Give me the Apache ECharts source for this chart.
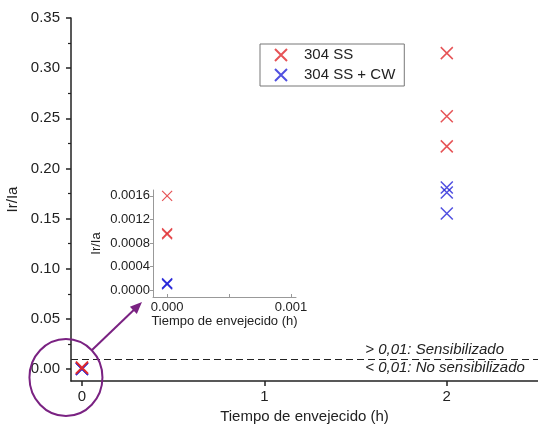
<!DOCTYPE html>
<html>
<head>
<meta charset="utf-8">
<script src="https://cdn.jsdelivr.net/npm/echarts@6/dist/echarts.min.js"></script>
<style>
html,body{margin:0;padding:0;background:#fff;}
#chart{width:538px;height:426px;}
</style>
</head>
<body>
<div id="chart"></div>
<script>
// ---- data ----
const seriesNames = ['304 SS', '304 SS + CW'];
const times = [0, 2];
const ss304_t0 = [0.0016, 0.00097, 0.00095];
const ss304_t2 = [0.315, 0.252, 0.222];
const ssCw_t0 = [0.00011, 0.00010, 0.00012];
const ssCw_t2 = [0.181, 0.176, 0.155];
const threshold = 0.01;
const thresholdLabels = ['> 0,01: Sensibilizado', '< 0,01: No sensibilizado'];
const mainYTicks = [0, 0.05, 0.10, 0.15, 0.20, 0.25, 0.30, 0.35];
const mainYMinor = [0.025, 0.075, 0.125, 0.175, 0.225, 0.275, 0.325];
const mainXTicks = [0, 1, 2];
const insetYTicks = [0, 0.0004, 0.0008, 0.0012, 0.0016];
const insetXTicks = [0, 0.001];
const insetXMinor = [0, 0.0005, 0.001];
const xTitle = 'Tiempo de envejecido (h)';
const yTitle = 'Ir/Ia';

// ---- build ----
const FONT = 'Arial, "Liberation Sans", sans-serif';
const RED = '#e0282c';
const BLUE = '#2424d8';
const PURPLE = '#7a2282';
const XSYM = 'path://M0,0L10,10M10,0L0,10';

function pairs(t, arr) { return arr.map(v => [t, v]); }
const redMain = pairs(times[0], ss304_t0).concat(pairs(times[1], ss304_t2));
const blueMain = pairs(times[0], ssCw_t0).concat(pairs(times[1], ssCw_t2));
const redInset = pairs(times[0], ss304_t0);
const blueInset = pairs(times[0], ssCw_t0);

const chart = echarts.init(document.getElementById('chart'), null, {renderer: 'canvas'});

const axisMain = {lineStyle: {color: '#222', width: 1.5}};
const option = {
  animation: false,
  backgroundColor: '#fff',
  textStyle: {fontFamily: FONT},
  legend: {
    data: seriesNames,
    orient: 'vertical',
    left: 260, top: 44,
    itemWidth: 12, itemHeight: 12, itemGap: 2,
    padding: [2, 9, 2, 14],
    borderColor: '#777', borderWidth: 1,
    selectedMode: false,
    textStyle: {fontSize: 15, color: '#222', lineHeight: 18, padding: [0, 0, 0, 12], fontFamily: FONT}
  },
  grid: [
    {left: 71, right: 0, top: 18, bottom: 45, containLabel: false, outerBoundsMode: 'none'},
    {left: 153, right: 242, top: 190, bottom: 129, containLabel: false, outerBoundsMode: 'none'}
  ],
  xAxis: [
    {
      gridIndex: 0, type: 'value', min: -0.06, max: 2.5, position: 'bottom',
      name: xTitle, nameLocation: 'middle', nameGap: 24,
      nameTextStyle: {fontSize: 15, color: '#222', fontFamily: FONT},
      axisLine: {onZero: false, ...axisMain},
      axisTick: {show: true, length: 5, customValues: mainXTicks, lineStyle: {color: '#222', width: 1.5}},
      axisLabel: {customValues: mainXTicks, fontSize: 15, color: '#222', margin: 8, fontFamily: FONT},
      splitLine: {show: false}
    },
    {
      gridIndex: 1, type: 'value', min: -0.000114, max: 0.00104, position: 'bottom',
      name: xTitle, nameLocation: 'middle', nameGap: 14,
      nameTextStyle: {fontSize: 13, color: '#222', fontFamily: FONT},
      axisLine: {onZero: false, lineStyle: {color: '#999', width: 1}},
      axisTick: {show: true, inside: true, length: 3, customValues: insetXMinor, lineStyle: {color: '#999'}},
      axisLabel: {customValues: insetXTicks, fontSize: 13, color: '#222', margin: 4, fontFamily: FONT,
        formatter: v => v.toFixed(3)},
      splitLine: {show: false}
    }
  ],
  yAxis: [
    {
      gridIndex: 0, type: 'value', min: -0.012, max: 0.35, position: 'left',
      name: yTitle, nameLocation: 'middle', nameGap: 45, nameRotate: 90,
      nameTextStyle: {fontSize: 15, color: '#222', fontFamily: FONT},
      axisLine: {onZero: false, ...axisMain},
      axisTick: {show: true, length: 5, customValues: mainYTicks, lineStyle: {color: '#222', width: 1.5}},
      axisLabel: {customValues: mainYTicks, fontSize: 15, color: '#222', margin: 11, fontFamily: FONT,
        formatter: v => v.toFixed(2)},
      splitLine: {show: false}
    },
    {
      gridIndex: 0, type: 'value', min: -0.012, max: 0.35, position: 'left', offset: 0,
      axisLine: {show: false, onZero: false},
      axisTick: {show: true, length: 3, customValues: mainYMinor, lineStyle: {color: '#222', width: 1.2}},
      axisLabel: {show: false},
      splitLine: {show: false}
    },
    {
      gridIndex: 1, type: 'value', min: -0.000114, max: 0.0017, position: 'left',
      name: yTitle, nameLocation: 'middle', nameGap: 50, nameRotate: 90,
      nameTextStyle: {fontSize: 13, color: '#222', fontFamily: FONT},
      axisLine: {onZero: false, lineStyle: {color: '#999', width: 1}},
      axisTick: {show: true, length: 3, customValues: insetYTicks, lineStyle: {color: '#999'}},
      axisLabel: {customValues: insetYTicks, fontSize: 13, color: '#222', margin: 3, fontFamily: FONT,
        formatter: v => v.toFixed(4)},
      splitLine: {show: false}
    }
  ],
  series: [
    {
      name: seriesNames[1], type: 'scatter', xAxisIndex: 0, yAxisIndex: 0,
      data: blueMain, symbol: XSYM, symbolSize: 12, z: 2,
      itemStyle: {color: BLUE, borderColor: BLUE, borderWidth: 1.5},
      emphasis: {disabled: true}
    },
    {
      name: seriesNames[0], type: 'scatter', xAxisIndex: 0, yAxisIndex: 0,
      data: redMain, symbol: XSYM, symbolSize: 12, z: 3,
      itemStyle: {color: RED, borderColor: RED, borderWidth: 1.5},
      emphasis: {disabled: true},
      markLine: {
        silent: true, symbol: 'none', animation: false,
        label: {show: false},
        lineStyle: {color: '#222', type: [7, 4], width: 1.2},
        data: [{yAxis: threshold}]
      }
    },
    {
      name: seriesNames[1], type: 'scatter', xAxisIndex: 1, yAxisIndex: 2,
      data: blueInset, symbol: XSYM, symbolSize: 10, z: 2,
      itemStyle: {color: BLUE, borderColor: BLUE, borderWidth: 1.3},
      emphasis: {disabled: true}
    },
    {
      name: seriesNames[0], type: 'scatter', xAxisIndex: 1, yAxisIndex: 2,
      data: redInset, symbol: XSYM, symbolSize: 10, z: 3,
      itemStyle: {color: RED, borderColor: RED, borderWidth: 1.2},
      emphasis: {disabled: true}
    }
  ]
};
chart.setOption(option);

// ---- annotations anchored to the axes ----
const origin = chart.convertToPixel({gridIndex: 0}, [0, 0]);
const thrY = chart.convertToPixel({gridIndex: 0}, [0, threshold])[1];
const insetRect = chart.getModel().getComponent('grid', 1).coordinateSystem.getRect();
const insetCorner = [insetRect.x, insetRect.y + insetRect.height];
const mainRect = chart.getModel().getComponent('grid', 0).coordinateSystem.getRect();

const ecx = origin[0] - 16, ecy = origin[1] + 8.5, erx = 36.5, ery = 38.5;
const a = Math.PI / 4;
const start = [ecx + erx * Math.cos(a), ecy - ery * Math.sin(a)];
const tip = [insetCorner[0] - 11, insetCorner[1] + 5];
const dx = tip[0] - start[0], dy = tip[1] - start[1];
const len = Math.sqrt(dx * dx + dy * dy);
const ux = dx / len, uy = dy / len;
const headL = 12, headW = 5;
const base = [tip[0] - ux * headL, tip[1] - uy * headL];
const head = [
  tip,
  [base[0] - uy * headW, base[1] + ux * headW],
  [base[0] + uy * headW, base[1] - ux * headW]
];
const annX = mainRect.x + mainRect.width * 0.63;

chart.setOption({
  graphic: [
    {type: 'ellipse', shape: {cx: ecx, cy: ecy, rx: erx, ry: ery},
     style: {fill: 'none', stroke: PURPLE, lineWidth: 2}, z: 100},
    {type: 'line', shape: {x1: start[0], y1: start[1], x2: base[0] + ux * 2, y2: base[1] + uy * 2},
     style: {stroke: PURPLE, lineWidth: 2}, z: 100},
    {type: 'polygon', shape: {points: head}, style: {fill: PURPLE}, z: 100},
    {type: 'text', x: annX, y: thrY - 2,
     style: {text: thresholdLabels[0], font: 'italic 15px ' + FONT, fill: '#222',
             textAlign: 'left', textVerticalAlign: 'bottom'}, z: 100},
    {type: 'text', x: annX, y: thrY + 1,
     style: {text: thresholdLabels[1], font: 'italic 15px ' + FONT, fill: '#222',
             textAlign: 'left', textVerticalAlign: 'top'}, z: 100}
  ]
});
</script>
</body>
</html>
